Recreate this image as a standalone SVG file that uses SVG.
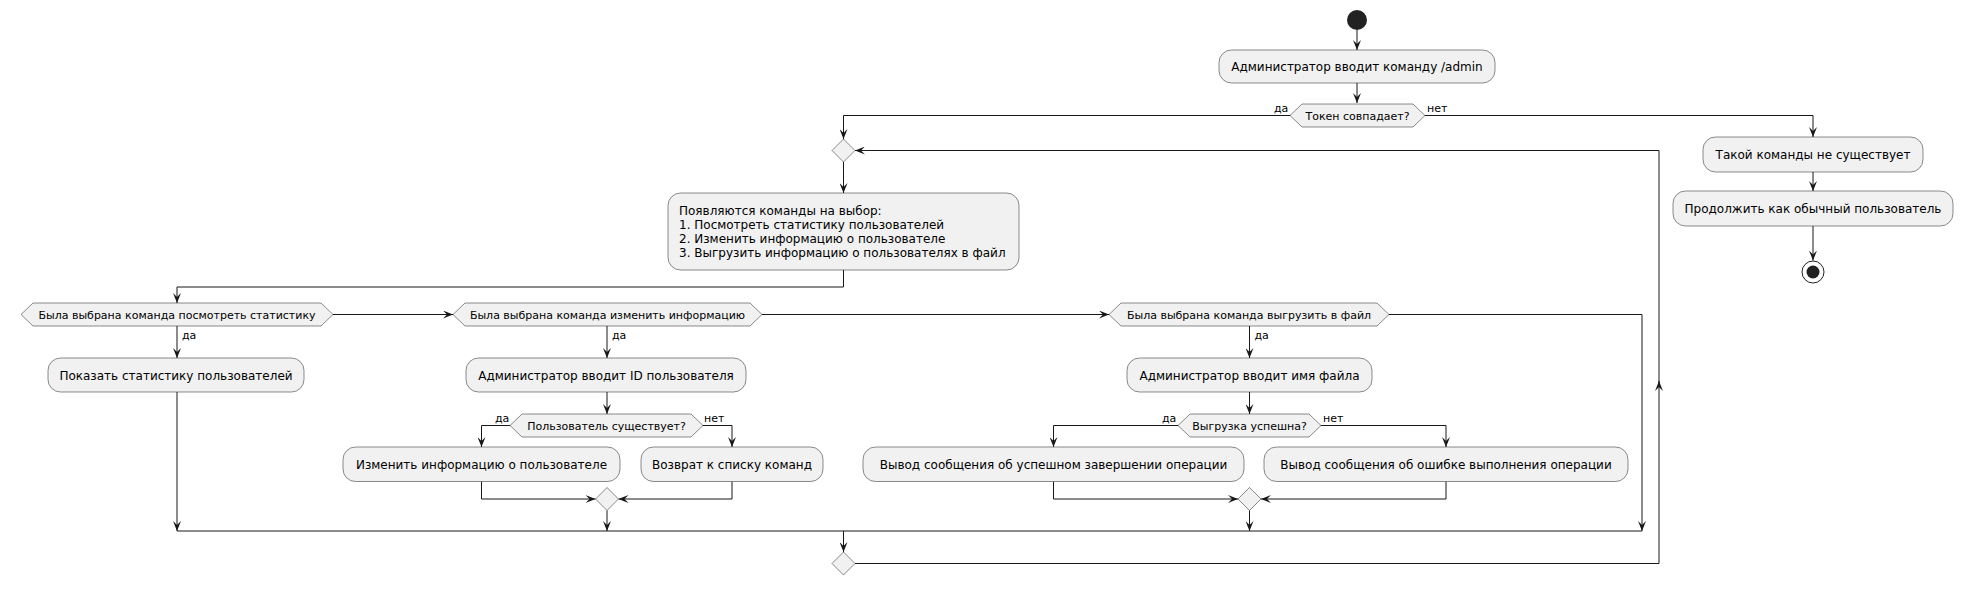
<svg xmlns="http://www.w3.org/2000/svg" width="1963" height="592" viewBox="0 0 1963 592">
<style>
.box{fill:#F1F1F1;stroke:#181818;stroke-width:0.5}
.dec{fill:#F1F1F1;stroke:#181818;stroke-width:0.5}
.t{font-family:"DejaVu Sans",sans-serif;font-size:12px;fill:#000}
.td{font-family:"DejaVu Sans",sans-serif;font-size:11px;fill:#000}
.lbl{font-family:"DejaVu Sans",sans-serif;font-size:11px;fill:#000}
.c{text-anchor:middle}
.ln{fill:none;stroke:#181818;stroke-width:1;marker-end:url(#ah)}
.lnn{fill:none;stroke:#181818;stroke-width:1}
</style>
<defs>
<marker id="ah" viewBox="0 0 10 8" refX="10" refY="4" markerWidth="10" markerHeight="8" markerUnits="userSpaceOnUse" orient="auto">
<path d="M0,0 L10,4 L0,8 L4,4 Z" fill="#181818"/>
</marker>
</defs>
<rect width="1963" height="592" fill="#FFFFFF"/>

<g id="connectors">
<path class="ln" d="M1357,30 L1357,50"/>
<path class="ln" d="M1357,83 L1357,103"/>
<path class="ln" d="M1290,115.5 L843.5,115.5 L843.5,139"/>
<path class="ln" d="M1425,115.5 L1813,115.5 L1813,137"/>
<path class="ln" d="M1813,172 L1813,191"/>
<path class="ln" d="M1813,226 L1813,260.5"/>
<path class="ln" d="M843.5,162 L843.5,193"/>
<path class="ln" d="M843.5,270 L843.5,287 L177,287 L177,303"/>
<path class="ln" d="M333,314.5 L453,314.5"/>
<path class="ln" d="M762,314.5 L1109,314.5"/>
<path class="ln" d="M1389,314.5 L1642,314.5 L1642,531"/>
<path class="ln" d="M177,326 L177,358"/>
<path class="ln" d="M177,392 L177,531"/>
<path class="ln" d="M607,326 L607,358"/>
<path class="ln" d="M607,392 L607,414"/>
<path class="ln" d="M510,425.5 L481.5,425.5 L481.5,447"/>
<path class="ln" d="M703,425.5 L732,425.5 L732,447"/>
<path class="ln" d="M481.5,481.5 L481.5,499 L595.5,499"/>
<path class="ln" d="M732,481.5 L732,499 L618.5,499"/>
<path class="ln" d="M607,510.5 L607,531"/>
<path class="ln" d="M1249.5,326 L1249.5,358"/>
<path class="ln" d="M1249.5,392 L1249.5,414"/>
<path class="ln" d="M1178,425.5 L1053.5,425.5 L1053.5,447"/>
<path class="ln" d="M1321,425.5 L1446,425.5 L1446,447"/>
<path class="ln" d="M1053.5,481.5 L1053.5,499 L1238,499"/>
<path class="ln" d="M1446,481.5 L1446,499 L1261,499"/>
<path class="ln" d="M1249.5,510.5 L1249.5,531"/>
<path class="lnn" d="M177,531 L1642,531"/>
<path class="ln" d="M843.5,531 L843.5,552"/>
<path class="ln" d="M855,563.5 L1659,563.5 L1659,381"/>
<path class="ln" d="M1659,385 L1659,150.5 L855,150.5"/>
<text class="lbl" x="1274" y="112">да</text>
<text class="lbl" x="1427" y="112">нет</text>
<text class="lbl" x="182" y="339">да</text>
<text class="lbl" x="612" y="339">да</text>
<text class="lbl" x="1254.5" y="339">да</text>
<text class="lbl" x="495" y="422">да</text>
<text class="lbl" x="704" y="422">нет</text>
<text class="lbl" x="1162" y="422">да</text>
<text class="lbl" x="1323" y="422">нет</text>
</g>

<g id="start"><circle cx="1357" cy="20" r="10" fill="#222222"/></g>

<g id="admin-cmd">
<rect class="box" x="1219" y="50" width="276" height="33" rx="12.5"/>
<text class="t c" x="1357" y="71">Администратор вводит команду /admin</text>
</g>

<g id="token-check">
<polygon class="dec" points="1290,115.5 1302,104 1413,104 1425,115.5 1413,127 1302,127"/>
<text class="td c" x="1357.5" y="119.5">Токен совпадает?</text>
</g>

<g id="no-command">
<rect class="box" x="1703" y="137" width="220" height="35" rx="12.5"/>
<text class="t c" x="1813" y="158.5">Такой команды не существует</text>
</g>

<g id="continue-user">
<rect class="box" x="1673" y="191" width="280" height="35" rx="12.5"/>
<text class="t c" x="1813" y="212.5">Продолжить как обычный пользователь</text>
</g>

<g id="end">
<circle cx="1813" cy="272" r="11" fill="none" stroke="#222222" stroke-width="1"/>
<circle cx="1813" cy="272" r="6.5" fill="#222222"/>
</g>

<g id="loop-merge">
<polygon class="dec" points="843.5,139 855,150.5 843.5,162 832,150.5"/>
</g>

<g id="menu">
<rect class="box" x="668" y="193" width="351" height="77" rx="12.5"/>
<text class="t" x="679" y="215">Появляются команды на выбор:</text>
<text class="t" x="679" y="229">1. Посмотреть статистику пользователей</text>
<text class="t" x="679" y="243">2. Изменить информацию о пользователе</text>
<text class="t" x="679" y="257">3. Выгрузить информацию о пользователях в файл</text>
</g>

<g id="dec-stats">
<polygon class="dec" points="21,314.5 33,303 321,303 333,314.5 321,326 33,326"/>
<text class="td c" x="177" y="318.5">Была выбрана команда посмотреть статистику</text>
</g>

<g id="show-stats">
<rect class="box" x="48" y="358" width="256" height="34" rx="12.5"/>
<text class="t c" x="176" y="379.5">Показать статистику пользователей</text>
</g>

<g id="dec-edit">
<polygon class="dec" points="453,314.5 465,303 750,303 762,314.5 750,326 465,326"/>
<text class="td c" x="607.5" y="318.5">Была выбрана команда изменить информацию</text>
</g>

<g id="enter-id">
<rect class="box" x="466" y="358" width="280" height="34" rx="12.5"/>
<text class="t c" x="606" y="379.5">Администратор вводит ID пользователя</text>
</g>

<g id="dec-user-exists">
<polygon class="dec" points="510,425.5 522,414 691,414 703,425.5 691,437 522,437"/>
<text class="td c" x="606.5" y="429.5">Пользователь существует?</text>
</g>

<g id="edit-info">
<rect class="box" x="343" y="447" width="277" height="34.5" rx="12.5"/>
<text class="t c" x="481.5" y="468.5">Изменить информацию о пользователе</text>
</g>

<g id="back-to-list">
<rect class="box" x="641" y="447" width="182" height="34.5" rx="12.5"/>
<text class="t c" x="732" y="468.5">Возврат к списку команд</text>
</g>

<g id="merge-edit">
<polygon class="dec" points="607,487.5 618.5,499 607,510.5 595.5,499"/>
</g>

<g id="dec-export">
<polygon class="dec" points="1109,314.5 1121,303 1377,303 1389,314.5 1377,326 1121,326"/>
<text class="td c" x="1249" y="318.5">Была выбрана команда выгрузить в файл</text>
</g>

<g id="enter-filename">
<rect class="box" x="1127" y="358" width="245" height="34" rx="12.5"/>
<text class="t c" x="1249.5" y="379.5">Администратор вводит имя файла</text>
</g>

<g id="dec-export-ok">
<polygon class="dec" points="1178,425.5 1190,414 1309,414 1321,425.5 1309,437 1190,437"/>
<text class="td c" x="1249.5" y="429.5">Выгрузка успешна?</text>
</g>

<g id="success-msg">
<rect class="box" x="863" y="447" width="381" height="34.5" rx="12.5"/>
<text class="t c" x="1053.5" y="468.5">Вывод сообщения об успешном завершении операции</text>
</g>

<g id="error-msg">
<rect class="box" x="1264" y="447" width="364" height="34.5" rx="12.5"/>
<text class="t c" x="1446" y="468.5">Вывод сообщения об ошибке выполнения операции</text>
</g>

<g id="merge-export">
<polygon class="dec" points="1249.5,487.5 1261,499 1249.5,510.5 1238,499"/>
</g>

<g id="final-merge">
<polygon class="dec" points="843.5,552 855,563.5 843.5,575 832,563.5"/>
</g>
</svg>
